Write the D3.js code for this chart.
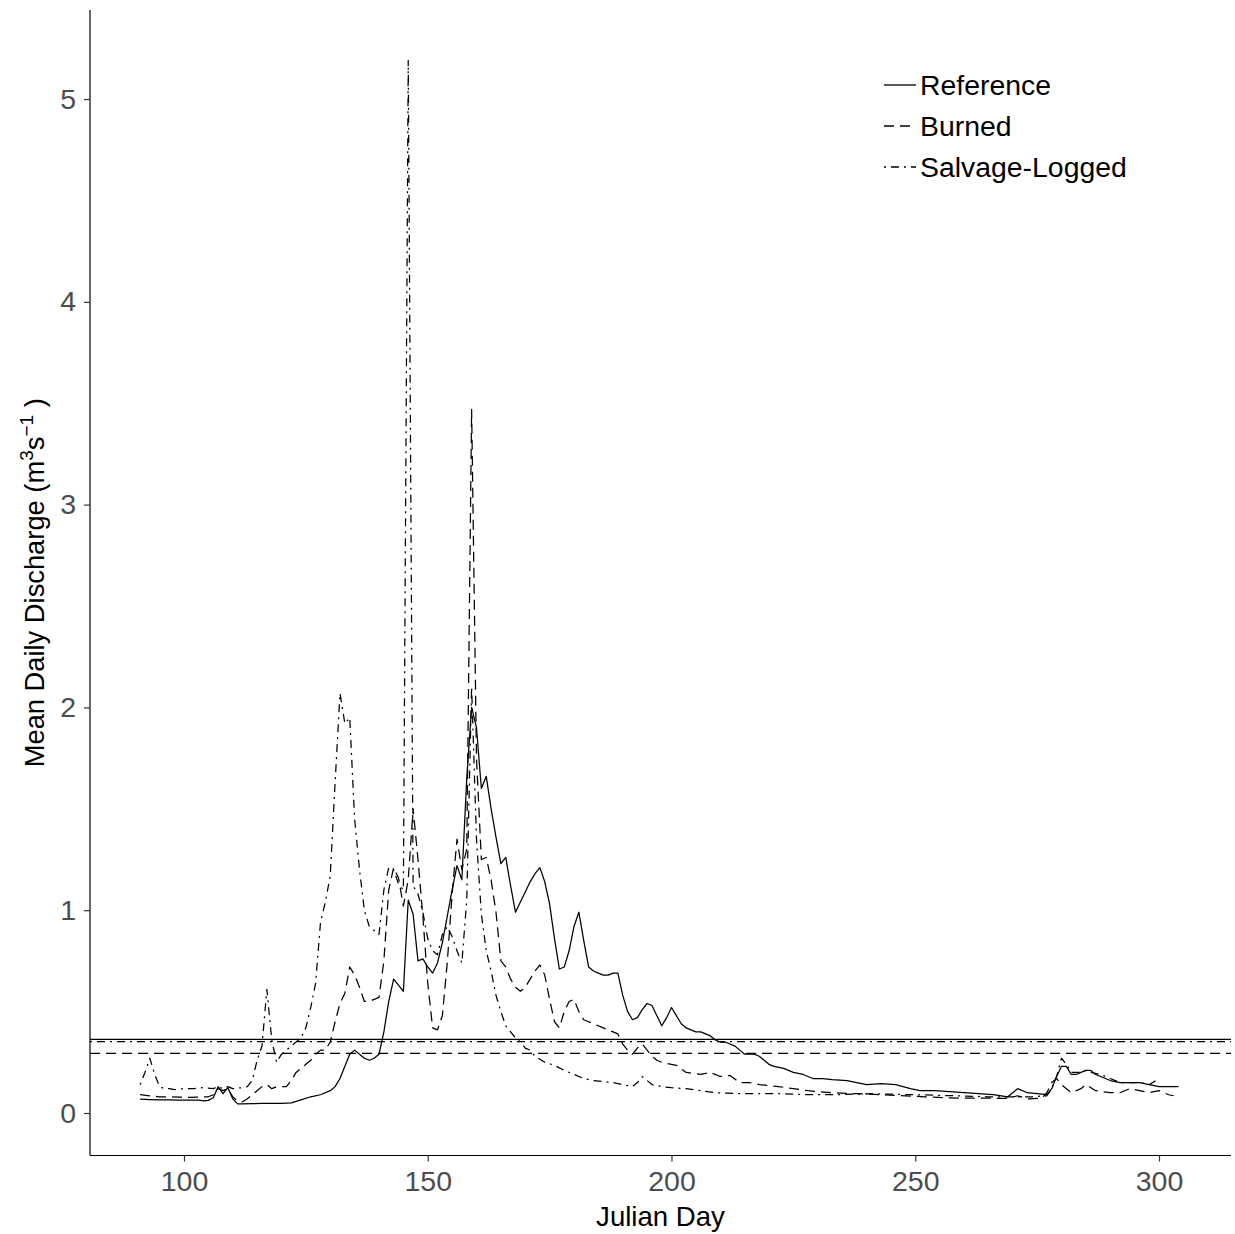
<!DOCTYPE html>
<html>
<head>
<meta charset="utf-8">
<script src="https://cdn.jsdelivr.net/npm/d3@7"></script>
<style>
  html, body { margin: 0; padding: 0; background: #fff; }
  svg { display: block; font-family: "Liberation Sans", Arial, sans-serif; }
</style>
</head>
<body>
<svg id="chart" width="1235" height="1234"></svg>
<script>
// Mean daily discharge by Julian day for three watersheds
const seriesNames = ["Reference", "Burned", "Salvage-Logged"];

const refDays = [91,92,93,95,97,99,101,103,104,105,106,107,108,109,110,111,112,114,116,118,120,122,124,126,128,130,131,132,133,134,135,136,137,138,139,140,141,142,143,144,145,146,147,148,149,150,151,152,153,154,155,156,157,158,159,160,161,162,163,164,165,166,167,168,169,170,171,172,173,174,175,176,177,178,179,180,181,182,183,184,185,186,187,188,189,190,191,192,193,194,195,196,197,198,199,200,201,202,203,204,205,206,207,208,209,210,211,212,213,214,215,216,217,218,219,220,221,223,225,227,229,231,233,236,238,240,243,246,249,251,254,257,260,263,266,269,271,273,275,277,278,279,280,281,282,283,284,285,286,287,288,290,292,294,296,298,300,302,304];
const refFlow = [0.068,0.067,0.066,0.065,0.065,0.064,0.063,0.064,0.06,0.062,0.075,0.13,0.095,0.125,0.07,0.045,0.045,0.046,0.047,0.047,0.048,0.05,0.065,0.08,0.09,0.11,0.13,0.17,0.23,0.29,0.31,0.29,0.27,0.26,0.27,0.29,0.40,0.55,0.66,0.63,0.60,1.05,0.98,0.75,0.76,0.72,0.69,0.74,0.84,0.97,1.10,1.22,1.15,1.65,2.0,1.9,1.6,1.66,1.5,1.36,1.23,1.26,1.12,0.99,1.04,1.09,1.14,1.18,1.21,1.14,1.03,0.86,0.71,0.72,0.80,0.92,0.99,0.85,0.72,0.70,0.69,0.68,0.68,0.69,0.69,0.58,0.50,0.46,0.47,0.51,0.54,0.53,0.48,0.43,0.47,0.52,0.48,0.44,0.42,0.41,0.40,0.40,0.39,0.38,0.36,0.35,0.35,0.34,0.33,0.31,0.29,0.29,0.29,0.28,0.26,0.24,0.23,0.22,0.20,0.19,0.17,0.17,0.165,0.16,0.15,0.14,0.145,0.14,0.12,0.11,0.11,0.105,0.10,0.095,0.09,0.08,0.12,0.10,0.095,0.09,0.12,0.18,0.23,0.23,0.19,0.19,0.20,0.21,0.21,0.19,0.18,0.16,0.15,0.15,0.15,0.14,0.13,0.13,0.13];

const burnDays = [91,93,95,97,99,101,103,105,106,107,108,109,110,111,112,113,114,115,116,117,118,119,120,121,122,123,124,125,126,127,128,129,130,131,132,133,134,135,136,137,138,139,140,141,142,143,144,145,146,147,148,149,150,151,152,153,154,155,156,157,158,159,160,161,162,163,164,165,166,167,168,169,170,171,172,173,174,175,176,177,178,179,180,181,182,183,184,186,188,189,190,191,192,193,194,195,196,197,198,200,201,203,206,208,210,212,214,216,218,222,225,228,233,238,243,248,252,256,260,265,269,271,273,276,277,278,279,280,282,284,285,287,290,292,294,296,298,300,302,303];
const burnFlow = [0.09,0.085,0.08,0.08,0.078,0.077,0.078,0.08,0.09,0.12,0.11,0.12,0.08,0.06,0.055,0.07,0.09,0.11,0.13,0.14,0.12,0.13,0.13,0.13,0.16,0.20,0.22,0.24,0.26,0.29,0.31,0.31,0.35,0.45,0.54,0.59,0.72,0.68,0.62,0.55,0.55,0.56,0.57,0.75,1.10,1.21,1.16,1.02,1.15,1.5,1.25,0.97,0.64,0.42,0.41,0.48,0.74,1.08,1.35,1.2,1.3,3.47,1.75,1.25,1.26,1.15,0.99,0.75,0.72,0.66,0.62,0.60,0.62,0.66,0.70,0.73,0.68,0.56,0.45,0.42,0.50,0.55,0.56,0.50,0.46,0.45,0.44,0.42,0.40,0.39,0.34,0.31,0.29,0.32,0.34,0.31,0.28,0.26,0.25,0.24,0.235,0.20,0.19,0.20,0.18,0.185,0.15,0.15,0.14,0.13,0.12,0.11,0.10,0.095,0.09,0.085,0.08,0.075,0.073,0.073,0.072,0.085,0.07,0.073,0.10,0.15,0.17,0.14,0.10,0.12,0.14,0.11,0.10,0.10,0.12,0.11,0.10,0.11,0.09,0.085];

const salvDays = [91,92,93,94,95,96,97,98,100,102,104,106,107,108,109,110,112,113,114,115,116,117,118,119,120,121,122,123,124,125,126,127,128,129,130,131,132,133,134,135,136,137,138,139,140,141,142,143,144,145,146,147,148,149,150,151,152,153,154,155,156,157,158,159,160,161,162,163,164,165,166,167,168,169,170,171,172,174,176,178,180,182,184,186,188,190,192,193,194,195,196,198,200,203,206,209,214,222,228,233,241,250,258,265,270,274,277,278,279,280,281,282,284,285,286,288,290,292,294,296,298,300];
const salvFlow = [0.14,0.20,0.27,0.19,0.13,0.12,0.12,0.115,0.12,0.12,0.125,0.12,0.13,0.12,0.13,0.12,0.125,0.13,0.16,0.26,0.33,0.61,0.36,0.25,0.29,0.31,0.33,0.35,0.37,0.42,0.52,0.64,0.94,1.04,1.17,1.63,2.07,1.92,1.95,1.45,1.2,1.0,0.92,0.90,0.88,1.10,1.21,1.20,1.13,1.10,5.19,1.12,1.08,0.99,0.86,0.80,0.78,0.88,0.92,0.87,0.80,0.74,1.05,2.10,1.35,0.98,0.80,0.70,0.58,0.50,0.43,0.40,0.37,0.35,0.32,0.31,0.28,0.25,0.235,0.21,0.19,0.17,0.16,0.155,0.15,0.14,0.13,0.15,0.18,0.16,0.14,0.13,0.125,0.12,0.11,0.10,0.095,0.095,0.09,0.09,0.095,0.09,0.085,0.08,0.08,0.08,0.085,0.12,0.18,0.27,0.24,0.20,0.20,0.21,0.20,0.19,0.17,0.15,0.15,0.15,0.14,0.17];

// Season means drawn as horizontal reference lines
const meanFlow = [0.363, 0.294, 0.352];

const xTicks = [100, 150, 200, 250, 300];
const yTicks = [0, 1, 2, 3, 4, 5];

const dashes = [null, "10,6", "2,5,8,5"];

const svg = d3.select("#chart");
const panel = { left: 90, right: 1231, top: 10, bottom: 1155.5 };

const x = d3.scaleLinear().domain([80.72, 314.77]).range([panel.left, panel.right]);
const y = d3.scaleLinear().domain([-0.2096, 5.439]).range([panel.bottom, panel.top]);

const series = [
  { name: seriesNames[0], days: refDays, flow: refFlow, dash: dashes[0], mean: meanFlow[0] },
  { name: seriesNames[1], days: burnDays, flow: burnFlow, dash: dashes[1], mean: meanFlow[1] },
  { name: seriesNames[2], days: salvDays, flow: salvFlow, dash: dashes[2], mean: meanFlow[2] }
];

const line = d3.line().x(d => x(d[0])).y(d => y(d[1]));

// Discharge lines
const lines = svg.append("g");
series.forEach(s => {
  lines.append("path")
    .datum(s.days.map((d, i) => [d, s.flow[i]]))
    .attr("d", line)
    .attr("fill", "none")
    .attr("stroke", "#000")
    .attr("stroke-width", 1.25)
    .attr("stroke-linejoin", "round")
    .attr("stroke-dasharray", s.dash);
});

// Mean lines across the full panel
series.forEach(s => {
  svg.append("line")
    .attr("x1", panel.left).attr("x2", panel.right)
    .attr("y1", y(s.mean)).attr("y2", y(s.mean))
    .attr("stroke", "#000")
    .attr("stroke-width", 1.3)
    .attr("stroke-dasharray", s.dash);
});

// Axes
const xAxis = d3.axisBottom(x).tickValues(xTicks).tickSize(6).tickPadding(9).tickFormat(d3.format("d"));
const yAxis = d3.axisLeft(y).tickValues(yTicks).tickSize(6).tickPadding(8).tickFormat(d3.format("d"));

const gx = svg.append("g").attr("transform", `translate(0,${panel.bottom})`).call(xAxis);
const gy = svg.append("g").attr("transform", `translate(${panel.left},0)`).call(yAxis);

[gx, gy].forEach(g => {
  g.select(".domain").attr("stroke", "#000").attr("stroke-width", 1.2);
  g.selectAll(".tick line").attr("stroke", "#333").attr("stroke-width", 1.2);
  g.selectAll(".tick text")
    .attr("fill", "#4D4D4D")
    .style("font-size", "28.5px")
    .style("font-family", "'Liberation Sans', Arial, sans-serif");
});
gx.select(".domain").attr("d", `M${panel.left},0H${panel.right}`);
gy.select(".domain").attr("d", `M0,${panel.top}V${panel.bottom}`);

// Axis titles
svg.append("text")
  .attr("x", (panel.left + panel.right) / 2)
  .attr("y", 1226)
  .attr("text-anchor", "middle")
  .style("font-size", "27.6px")
  .attr("fill", "#000")
  .text("Julian Day");

const yTitle = svg.append("text")
  .attr("transform", `translate(44,${(panel.top + panel.bottom) / 2}) rotate(-90)`)
  .attr("text-anchor", "middle")
  .style("font-size", "27.3px")
  .attr("fill", "#000");
yTitle.append("tspan").text("Mean Daily Discharge (m");
yTitle.append("tspan").attr("dy", -11).style("font-size", "19px").text("3");
yTitle.append("tspan").attr("dy", 11).text("s");
yTitle.append("tspan").attr("dy", -11).style("font-size", "19px").text("\u22121");
yTitle.append("tspan").attr("dy", 11).text(" )");

// Legend
const legend = svg.append("g").attr("transform", "translate(884,85)");
series.forEach((s, i) => {
  const row = legend.append("g").attr("transform", `translate(0,${i * 41})`);
  row.append("line")
    .attr("x1", 0).attr("x2", 32).attr("y1", 0).attr("y2", 0)
    .attr("stroke", "#000").attr("stroke-width", 1.3)
    .attr("stroke-dasharray", s.dash);
  row.append("text")
    .attr("x", 36).attr("y", 10)
    .style("font-size", "28.4px")
    .attr("fill", "#000")
    .text(s.name);
});
</script>
</body>
</html>
